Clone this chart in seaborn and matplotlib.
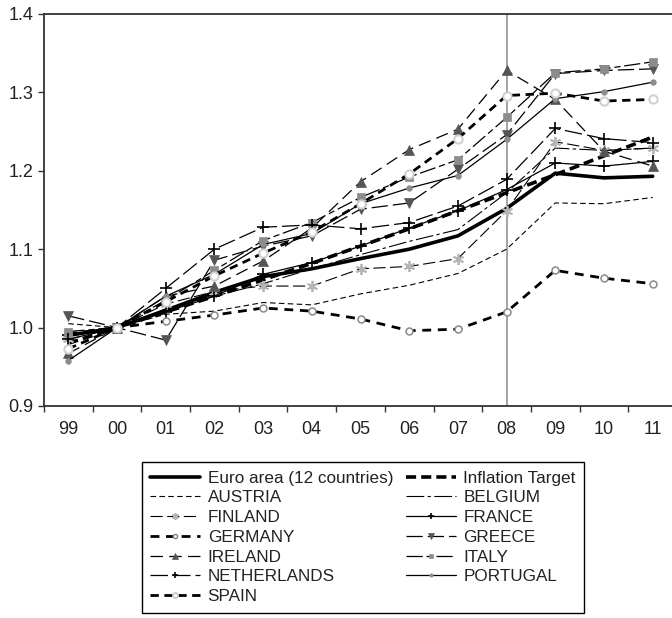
import numpy as np
import matplotlib
matplotlib.use("Agg")
import matplotlib.pyplot as plt
import seaborn as sns

# Price index, 2000 = 1.0
years = ["99", "00", "01", "02", "03", "04", "05", "06", "07", "08", "09", "10", "11"]

euro_area = [0.990, 1.000, 1.022, 1.045, 1.065, 1.075, 1.088, 1.100, 1.117, 1.152, 1.197, 1.191, 1.193]
inflation_target = [0.980, 1.000, 1.020, 1.040, 1.061, 1.082, 1.104, 1.126, 1.149, 1.172, 1.195, 1.219, 1.243]
austria = [1.005, 1.000, 1.017, 1.021, 1.032, 1.029, 1.043, 1.054, 1.069, 1.100, 1.159, 1.158, 1.166]
belgium = [0.990, 1.000, 1.024, 1.040, 1.056, 1.075, 1.093, 1.110, 1.125, 1.172, 1.229, 1.226, 1.229]
finland = [0.985, 1.000, 1.030, 1.046, 1.053, 1.053, 1.075, 1.078, 1.088, 1.149, 1.237, 1.226, 1.229]
france = [0.990, 1.000, 1.020, 1.040, 1.068, 1.083, 1.104, 1.127, 1.149, 1.176, 1.210, 1.206, 1.212]
germany = [0.992, 1.000, 1.008, 1.016, 1.025, 1.021, 1.011, 0.996, 0.998, 1.020, 1.073, 1.063, 1.056]
greece = [1.015, 1.000, 0.984, 1.086, 1.104, 1.117, 1.151, 1.159, 1.202, 1.246, 1.324, 1.328, 1.330]
ireland = [0.967, 1.000, 1.040, 1.053, 1.085, 1.127, 1.186, 1.227, 1.253, 1.328, 1.291, 1.225, 1.206]
italy = [0.995, 1.000, 1.035, 1.073, 1.111, 1.134, 1.166, 1.192, 1.214, 1.268, 1.325, 1.330, 1.339]
netherlands = [0.985, 1.000, 1.050, 1.100, 1.128, 1.131, 1.126, 1.134, 1.155, 1.189, 1.254, 1.241, 1.236]
portugal = [0.958, 1.000, 1.040, 1.068, 1.106, 1.120, 1.158, 1.178, 1.194, 1.240, 1.292, 1.301, 1.313]
spain = [0.973, 1.000, 1.033, 1.066, 1.095, 1.122, 1.158, 1.196, 1.241, 1.296, 1.299, 1.289, 1.291]

sns.set_style("ticks")
plt.rcParams["font.family"] = ["Liberation Sans", "DejaVu Sans"]

fig = plt.figure(figsize=(6.72, 6.18), dpi=100)
ax = fig.add_axes([44 / 672, 1 - 406 / 618, (677 - 44) / 672, (406 - 14) / 618])

xpos = np.arange(len(years))

styles = {
    "Euro area (12 countries)": (euro_area, dict(color="black", lw=2.6, linestyle="-")),
    "Inflation Target": (inflation_target, dict(color="black", lw=2.6, linestyle=(0, (2.8, 1.4)))),
    "AUSTRIA": (austria, dict(color="black", lw=0.8, linestyle=(0, (5, 3)))),
    "BELGIUM": (belgium, dict(color="black", lw=0.8, linestyle=(0, (16, 3, 3, 3)))),
    "FINLAND": (finland, dict(color="black", lw=0.8, linestyle=(0, (11, 4)),
                              marker=(6, 2, 0), markersize=8, markeredgewidth=1.3,
                              markeredgecolor="#b5b5b5", markerfacecolor="#b5b5b5")),
    "FRANCE": (france, dict(color="black", lw=0.9, linestyle="-",
                            marker="+", markersize=8, markeredgewidth=1.2,
                            markeredgecolor="black")),
    "GERMANY": (germany, dict(color="black", lw=2.0, linestyle=(0, (3.2, 2.4)),
                              marker="o", markersize=5, markeredgewidth=1.1,
                              markeredgecolor="#8a8a8a", markerfacecolor="white")),
    "GREECE": (greece, dict(color="black", lw=0.9, linestyle=(0, (13, 4)),
                            marker="v", markersize=7, markeredgewidth=0.5,
                            markeredgecolor="#555555", markerfacecolor="#555555")),
    "IRELAND": (ireland, dict(color="black", lw=0.9, linestyle=(0, (10, 5)),
                              marker="^", markersize=7, markeredgewidth=0.5,
                              markeredgecolor="#555555", markerfacecolor="#555555")),
    "ITALY": (italy, dict(color="black", lw=0.9, linestyle=(0, (13, 3, 5, 3)),
                          marker="s", markersize=6, markeredgewidth=0.5,
                          markeredgecolor="#8c8c8c", markerfacecolor="#8c8c8c")),
    "NETHERLANDS": (netherlands, dict(color="black", lw=0.9, linestyle=(0, (14, 4)),
                                      marker="+", markersize=8, markeredgewidth=1.2,
                                      markeredgecolor="black")),
    "PORTUGAL": (portugal, dict(color="black", lw=0.9, linestyle="-",
                                marker="o", markersize=4, markeredgewidth=0.5,
                                markeredgecolor="#8c8c8c", markerfacecolor="#8c8c8c")),
    "SPAIN": (spain, dict(color="black", lw=2.0, linestyle=(0, (3, 2)),
                          marker="o", markersize=6, markeredgewidth=1.4,
                          markeredgecolor="#cfcfcf", markerfacecolor="white")),
}

handles = {}
for label, (vals, kw) in styles.items():
    sns.lineplot(x=xpos, y=vals, ax=ax, label=label, errorbar=None, **kw)
    handles[label] = ax.lines[-1]

if ax.get_legend() is not None:
    ax.get_legend().remove()

# Vertical marker at 2008
ax.axvline(9, color="#8a8a8a", lw=1.1, zorder=0)

ax.set_xlim(-0.5, 12.5)
ax.set_ylim(0.9, 1.4)
ax.set_yticks([0.9, 1.0, 1.1, 1.2, 1.3, 1.4])
ax.set_yticklabels([f"{v:.1f}" for v in [0.9, 1.0, 1.1, 1.2, 1.3, 1.4]])

ax.set_xticks(np.arange(-0.5, 13.0, 1.0))
ax.set_xticklabels([])
ax.set_xticks(xpos, minor=True)
ax.set_xticklabels(years, minor=True)
ax.tick_params(axis="x", which="major", length=4.5, width=1.0, color="#333333", direction="out")
ax.tick_params(axis="x", which="minor", length=0, pad=11, labelsize=13, labelcolor="#222222")
ax.tick_params(axis="y", length=4.5, width=1.0, color="#333333", pad=3, labelsize=13, labelcolor="#222222")
ax.set_xlabel("")
ax.set_ylabel("")

for side in ["left", "bottom", "top", "right"]:
    ax.spines[side].set_color("#333333")
    ax.spines[side].set_linewidth(1.3)

order = ["Euro area (12 countries)", "AUSTRIA", "FINLAND", "GERMANY", "IRELAND", "NETHERLANDS", "SPAIN",
         "Inflation Target", "BELGIUM", "FRANCE", "GREECE", "ITALY", "PORTUGAL"]
leg = fig.legend([handles[k] for k in order], order, loc="upper center",
                 bbox_to_anchor=(363 / 672, 1 - 462 / 618), ncol=2, fontsize=12.3,
                 frameon=True, fancybox=False, edgecolor="black", framealpha=1,
                 handlelength=2.9, handletextpad=0.45, columnspacing=0.75,
                 labelspacing=0.28, borderpad=0.5, borderaxespad=0, markerscale=0.6)
leg.get_frame().set_linewidth(1.0)
for t in leg.get_texts():
    t.set_color("#222222")

fig.savefig("out.png", dpi=100)
